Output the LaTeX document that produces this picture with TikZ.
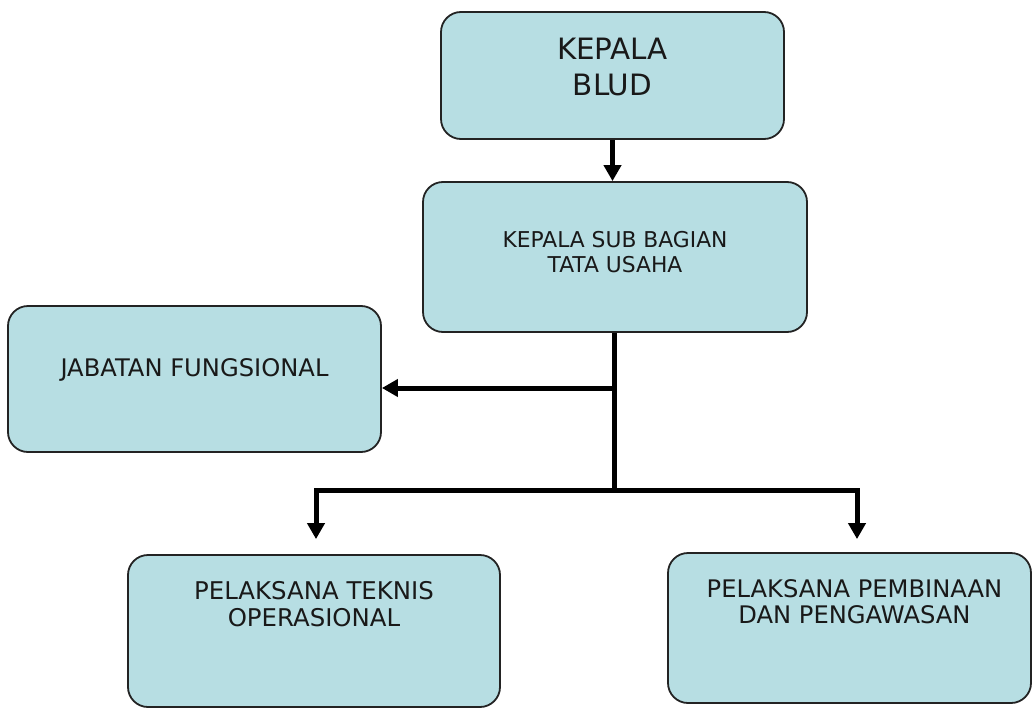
\documentclass[tikz,border=0pt]{standalone}
\usepackage{fontspec}
\setmainfont{DejaVu Sans}
\usepackage{tikz}
\usetikzlibrary{positioning,arrows.meta}
\definecolor{boxblue}{RGB}{183,222,227}
\definecolor{boxline}{RGB}{35,35,35}

\begin{document}
\begin{tikzpicture}[x=1pt, y=-1pt,
  orgbox/.style={draw=boxline, line width=1.8pt, rounded corners=20pt, fill=boxblue, inner sep=0pt},
  orgtext/.style={inner sep=0pt, align=center, text=black!90},
  link/.style={line width=5pt, black},
  linkarrow/.style={link, -{Triangle[width=17pt,length=16pt]}}]
  % Struktur organisasi BLUD
  \useasboundingbox (0,0) rectangle (1035,709);
  \node[orgbox, minimum width=343pt, minimum height=127pt] (blud) at (612.5,75.5) {};
  \node[orgbox, minimum width=384pt, minimum height=150pt] (tu)   at (615,257) {};
  \node[orgbox, minimum width=373pt, minimum height=146pt] (jf)   at (194.5,379) {};
  \node[orgbox, minimum width=372pt, minimum height=152pt] (pto)  at (314,631) {};
  \node[orgbox, minimum width=363pt, minimum height=150pt] (ppp)  at (849.5,628) {};

  \node[orgtext, font=\fontsize{29.4}{36}\selectfont, below=27pt of blud.north] (bludtxt) {KEPALA\\BLUD};
  \node[orgtext, font=\fontsize{21.8}{25}\selectfont, below=50pt of tu.north] (tutxt) {KEPALA SUB BAGIAN\\TATA USAHA};
  \node[orgtext, font=\fontsize{24.2}{27}\selectfont, below=53pt of jf.north] (jftxt) {JABATAN FUNGSIONAL};
  \node[orgtext, font=\fontsize{24.4}{27}\selectfont, below=27pt of pto.north] (ptotxt) {PELAKSANA TEKNIS\\OPERASIONAL};
  \node[orgtext, font=\fontsize{24.2}{26.5}\selectfont, below=27pt of ppp.north, xshift=5pt] (ppptxt) {PELAKSANA PEMBINAAN\\DAN PENGAWASAN};

  \coordinate (split) at (614,388);
  \coordinate (hub) at (614,490);
  \draw[linkarrow] (blud.south) -- (blud.south |- tu.north);
  \draw[link] (tu.south -| hub) -- (hub);
  \draw[linkarrow] (split) -- (split -| jf.east);
  \draw[linkarrow] (hub) -| ([xshift=2pt,yshift=15pt]pto.north);
  \draw[linkarrow] (hub) -| ([xshift=7.5pt,yshift=13pt]ppp.north);
\end{tikzpicture}
\end{document}
